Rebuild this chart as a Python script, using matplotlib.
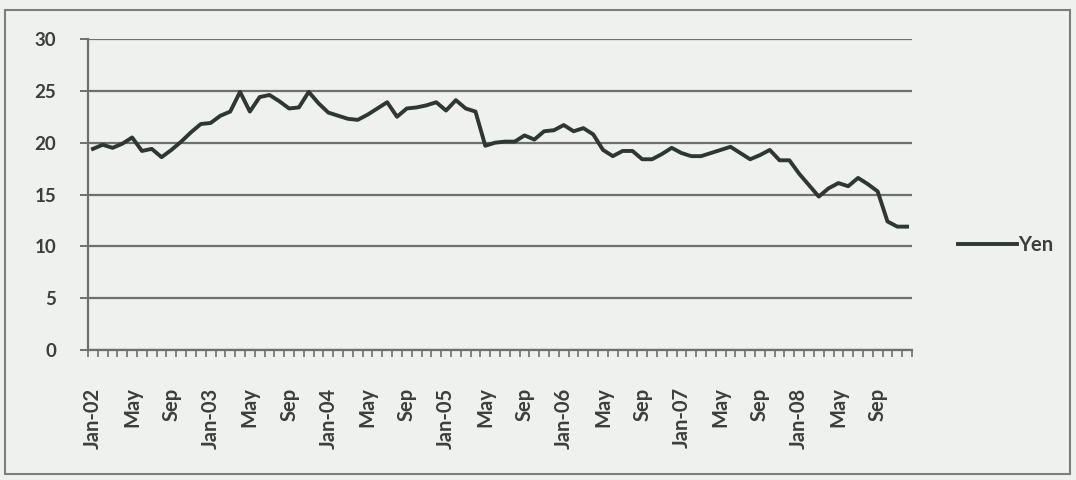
import numpy as np
import matplotlib
matplotlib.use('Agg')
import matplotlib.pyplot as plt
from matplotlib.patches import Rectangle

# monthly yen values, Jan-02 .. Dec-08
yen = [19.4, 19.8, 19.5, 19.9, 20.5, 19.2, 19.4, 18.6, 19.3, 20.1, 21.0, 21.8,
       21.9, 22.6, 23.0, 24.9, 23.0, 24.4, 24.6, 24.0, 23.3, 23.4, 24.9, 23.8,
       22.9, 22.6, 22.3, 22.2, 22.7, 23.3, 23.9, 22.5, 23.3, 23.4, 23.6, 23.9,
       23.1, 24.1, 23.3, 23.0, 19.7, 20.0, 20.1, 20.1, 20.7, 20.3, 21.1, 21.2,
       21.7, 21.1, 21.4, 20.8, 19.3, 18.7, 19.2, 19.2, 18.4, 18.4, 18.9, 19.5,
       19.0, 18.7, 18.7, 19.0, 19.3, 19.6, 19.0, 18.4, 18.8, 19.3, 18.3, 18.3,
       17.0, 15.9, 14.8, 15.6, 16.1, 15.8, 16.6, 16.0, 15.3, 12.4, 11.9, 11.9]
years = ['02', '03', '04', '05', '06', '07', '08']
month_labels = ['Jan', 'May', 'Sep']
y_ticks = [0, 5, 10, 15, 20, 25, 30]

bg = '#eff1ef'
ink = '#3a3f3c'
line_col = '#2e3833'
grid_col = '#6c716e'

plt.rcParams['font.family'] = ['Lato', 'DejaVu Sans']

fig = plt.figure(figsize=(10.76, 4.8), dpi=100, facecolor=bg)
ax = fig.add_axes([88/1076, 130/480, 824/1076, 311/480])
ax.set_facecolor(bg)

x = np.arange(len(yen))
ax.plot(x, yen, color=line_col, lw=2.8, label='Yen', solid_joinstyle='round')

ax.set_xlim(-0.5, len(yen) - 0.5)
ax.set_ylim(0, 30)
ax.set_yticks(y_ticks)
ax.yaxis.grid(True, color=grid_col, lw=1.6)
ax.set_axisbelow(True)

# labels every 4 months, ticks between each month
lab_pos = list(range(0, len(yen), 4))
labs = []
for p in lab_pos:
    m = month_labels[(p % 12) // 4]
    labs.append('Jan-' + years[p // 12] if m == 'Jan' else m)
ax.set_xticks(lab_pos)
ax.set_xticklabels(labs, rotation=90, fontsize=14.5, color=ink, fontweight='bold')
ax.set_xticks(np.arange(-0.5, len(yen), 1), minor=True)
ax.tick_params(axis='x', which='major', length=0, pad=27)
ax.tick_params(axis='x', which='minor', length=5, width=1.2, color=grid_col, direction='out')
ax.tick_params(axis='y', length=6, width=1.4, color=grid_col, pad=17,
               labelsize=13.5, labelcolor=ink)
for t in ax.get_yticklabels():
    t.set_fontweight('bold')

for s in ['top', 'right']:
    ax.spines[s].set_visible(False)
for s in ['left', 'bottom']:
    ax.spines[s].set_color(grid_col)
    ax.spines[s].set_linewidth(1.6)

leg = fig.legend(loc='center left', bbox_to_anchor=(940/1076, 1 - 245/480),
                 frameon=False, handlelength=2.9, handletextpad=0.1,
                 prop={'size': 14.5, 'weight': 'bold'})
for t in leg.get_texts():
    t.set_color(ink)

# outer chart border
fig.patches.append(Rectangle((5/1076, 6/480), 1065/1076, 464/480,
                             transform=fig.transFigure, fill=False,
                             edgecolor='#7a7f7c', lw=1.5))

fig.savefig('out.png', dpi=100, facecolor=bg)
